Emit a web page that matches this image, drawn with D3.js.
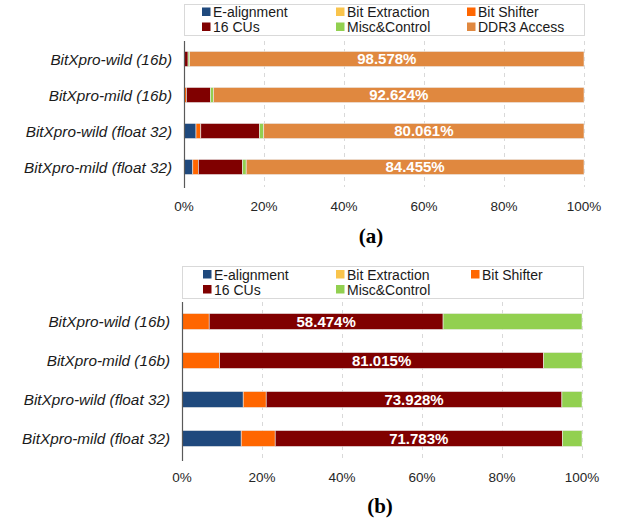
<!DOCTYPE html>
<html>
<head>
<meta charset="utf-8">
<script src="https://cdn.jsdelivr.net/npm/d3@7/dist/d3.min.js"></script>
<style>
  html, body { margin: 0; padding: 0; background: #ffffff; }
  svg { display: block; }
</style>
</head>
<body>
<svg id="chart" width="618" height="524"></svg>
<script>
// Row labels, shared by both panels (top to bottom)
const categories = [
  "BitXpro-wild (16b)",
  "BitXpro-mild (16b)",
  "BitXpro-wild (float 32)",
  "BitXpro-mild (float 32)"
];

const seriesNames = ["E-alignment", "Bit Extraction", "Bit Shifter", "16 CUs", "Misc&Control", "DDR3 Access"];
const seriesColors = ["#1F497D", "#F9C44C", "#FF6600", "#800000", "#92D050", "#E0883F"];

// Panel (a): share of each component, in percent
const eAlignA   = [0.05, 0.0, 3.0,    2.2];
const bitExtA   = [0.0,  0.0, 0.0,    0.0];
const shifterA  = [0.1,  0.6, 1.2,    1.4];
const cusA      = [0.87, 6.0, 14.64, 11.05];
const miscA     = [0.402, 0.776, 1.099, 0.895];
const ddr3A     = [98.578, 92.624, 80.061, 84.455];

// Panel (b): share of each component without DRAM access, in percent
const eAlignB   = [0.0,   0.0,   15.3,   14.8];
const bitExtB   = [0.0,   0.0,   0.0,    0.0];
const shifterB  = [6.8,   9.4,   5.75,   8.5];
const cusB      = [58.474, 81.015, 73.928, 71.783];
const miscB     = [34.726, 9.585, 5.022, 4.917];

const tickValues = [0, 20, 40, 60, 80, 100];
const tickLabels = ["0%", "20%", "40%", "60%", "80%", "100%"];

const svg = d3.select("#chart");

function buildRows(columns, keys) {
  return categories.map((c, i) => {
    const row = { category: c };
    keys.forEach((k, j) => { row[k] = columns[j][i]; });
    return row;
  });
}

function drawPanel(opt) {
  const keys = opt.keys;
  const rows = buildRows(opt.columns, keys);
  const color = d3.scaleOrdinal().domain(seriesNames).range(seriesColors);

  const x = d3.scaleLinear().domain([0, 100]).range([opt.x0, opt.x1]);
  const y = d3.scaleBand().domain(categories).range([opt.y0, opt.y1])
    .paddingInner(opt.pad).paddingOuter(opt.pad / 2);

  const g = svg.append("g");

  // dashed vertical gridlines
  g.append("g").selectAll("line")
    .data(tickValues.filter(v => v > 0))
    .join("line")
    .attr("x1", d => Math.round(x(d)) + 0.5)
    .attr("x2", d => Math.round(x(d)) + 0.5)
    .attr("y1", opt.y0)
    .attr("y2", opt.y1 + 2)
    .attr("stroke", "#d9d9d9")
    .attr("stroke-width", 1)
    .attr("stroke-dasharray", "4,4");

  // stacked bars
  const stacked = d3.stack().keys(keys)(rows);
  g.append("g").selectAll("g")
    .data(stacked)
    .join("g")
    .attr("fill", d => color(d.key))
    .selectAll("rect")
    .data(d => d)
    .join("rect")
    .attr("x", d => x(d[0]))
    .attr("width", d => Math.max(0, x(d[1]) - x(d[0])))
    .attr("y", d => y(d.data.category))
    .attr("height", y.bandwidth())
    .attr("stroke", "#ececec")
    .attr("stroke-width", 0.6);

  // value labels on the highlighted series
  const labelSeries = stacked.find(s => s.key === opt.labelKey);
  g.append("g").selectAll("text")
    .data(labelSeries)
    .join("text")
    .attr("x", d => (x(d[0]) + x(d[1])) / 2)
    .attr("y", d => y(d.data.category) + y.bandwidth() / 2)
    .attr("dy", "0.36em")
    .attr("text-anchor", "middle")
    .attr("fill", "#ffffff")
    .attr("font-family", "Liberation Sans, Arial, sans-serif")
    .attr("font-weight", "bold")
    .attr("font-size", 15)
    .text(d => (d[1] - d[0]).toFixed(3) + "%");

  // category axis line
  g.append("line")
    .attr("x1", Math.round(x(0)) + 0.5)
    .attr("x2", Math.round(x(0)) + 0.5)
    .attr("y1", opt.y0)
    .attr("y2", opt.y1 + 3)
    .attr("stroke", "#595959")
    .attr("stroke-width", 1.2);

  // category labels
  g.append("g").selectAll("text")
    .data(categories)
    .join("text")
    .attr("x", x(0) - 12)
    .attr("y", d => y(d) + y.bandwidth() / 2)
    .attr("dy", "0.36em")
    .attr("text-anchor", "end")
    .attr("font-family", "Liberation Sans, Arial, sans-serif")
    .attr("font-style", "italic")
    .attr("font-size", 15.3)
    .attr("fill", "#1a1a1a")
    .text(d => d);

  // value axis tick labels
  g.append("g").selectAll("text")
    .data(tickValues)
    .join("text")
    .attr("x", d => x(d))
    .attr("y", opt.tickY)
    .attr("text-anchor", "middle")
    .attr("font-family", "Liberation Sans, Arial, sans-serif")
    .attr("font-size", 13.5)
    .attr("fill", "#262626")
    .text((d, i) => tickLabels[i]);

  // legend
  const lg = g.append("g");
  lg.append("rect")
    .attr("x", opt.legend.x + 0.5)
    .attr("y", opt.legend.y + 0.5)
    .attr("width", opt.legend.w)
    .attr("height", opt.legend.h)
    .attr("fill", "#ffffff")
    .attr("stroke", "#d9d9d9")
    .attr("stroke-width", 1);
  const items = lg.selectAll("g")
    .data(opt.legendKeys)
    .join("g")
    .attr("transform", (d, i) =>
      `translate(${opt.legend.cols[i % 3]},${opt.legend.rows[Math.floor(i / 3)]})`);
  items.append("rect")
    .attr("x", 0).attr("y", -4.5)
    .attr("width", 8.5).attr("height", 8.5)
    .attr("fill", d => color(d));
  items.append("text")
    .attr("x", 11)
    .attr("y", 0)
    .attr("dy", "0.36em")
    .attr("font-family", "Liberation Sans, Arial, sans-serif")
    .attr("font-size", 14)
    .attr("fill", "#1a1a1a")
    .text(d => d);

  // panel caption
  g.append("text")
    .attr("x", opt.captionX)
    .attr("y", opt.captionY)
    .attr("text-anchor", "middle")
    .attr("font-family", "Liberation Serif, Times New Roman, serif")
    .attr("font-weight", "bold")
    .attr("font-size", 21)
    .attr("fill", "#000000")
    .text(opt.caption);
}

drawPanel({
  keys: seriesNames,
  columns: [eAlignA, bitExtA, shifterA, cusA, miscA, ddr3A],
  labelKey: "DDR3 Access",
  legendKeys: seriesNames,
  x0: 184, x1: 584, y0: 41, y1: 185, pad: 0.58,
  tickY: 210.5,
  legend: { x: 184, y: 4, w: 400, h: 31, cols: [202, 336, 467], rows: [12, 27] },
  caption: "(a)", captionX: 371, captionY: 243
});

drawPanel({
  keys: seriesNames.slice(0, 5),
  columns: [eAlignB, bitExtB, shifterB, cusB, miscB],
  labelKey: "16 CUs",
  legendKeys: seriesNames.slice(0, 5),
  x0: 182, x1: 582, y0: 302, y1: 458, pad: 0.59,
  tickY: 482,
  legend: { x: 182, y: 266, w: 401, h: 32, cols: [203, 336, 471], rows: [274.5, 289.5] },
  caption: "(b)", captionX: 380, captionY: 513
});
</script>
</body>
</html>
